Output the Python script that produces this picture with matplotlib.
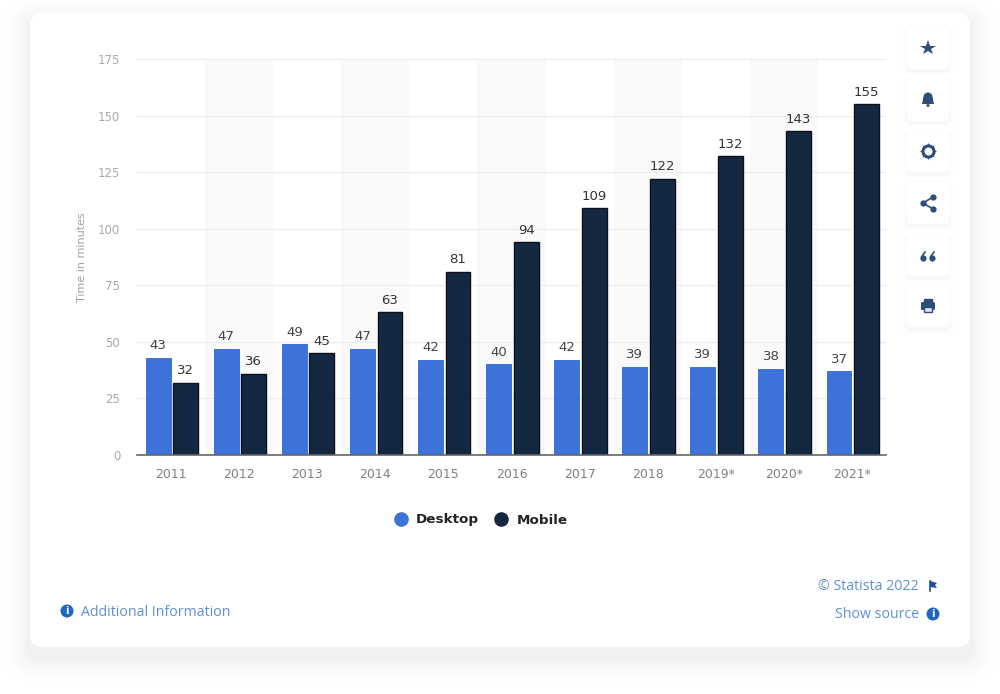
import numpy as np
import matplotlib
matplotlib.use('Agg')
import matplotlib.pyplot as plt
from matplotlib.lines import Line2D
from matplotlib.patches import FancyBboxPatch, Circle, Rectangle, Polygon

years = ['2011', '2012', '2013', '2014', '2015', '2016', '2017', '2018', '2019*', '2020*', '2021*']
desktop = [43, 47, 49, 47, 42, 40, 42, 39, 39, 38, 37]
mobile = [32, 36, 45, 63, 81, 94, 109, 122, 132, 143, 155]
y_ticks = [0, 25, 50, 75, 100, 125, 150, 175]

BLUE = '#3d72d8'
NAVY = '#152842'
LINK = '#5f8fd6'
ICON = '#2f4d78'

fig = plt.figure(figsize=(10, 6.94), dpi=100, facecolor='white')

# page layer in pixel coordinates: card, shadow, buttons, footer
page = fig.add_axes([0, 0, 1, 1], zorder=0)
page.set_xlim(0, 1000)
page.set_ylim(694, 0)
page.axis('off')


def rounded(ax, x, y, w, h, r, **kw):
    p = FancyBboxPatch((x + r, y + r), w - 2 * r, h - 2 * r,
                       boxstyle='round,pad=%f,rounding_size=%f' % (r, r), **kw)
    ax.add_patch(p)


def grey(level):
    # level 0 is white, 1 is the darkest shadow tone
    v = 1 - 0.06 * level
    return (v, v, v)


# soft shadow, solid tones from outside to inside
for grow in range(30, 0, -1):
    rounded(page, 30 - grow, 13 - grow + 10, 940 + 2 * grow, 634 + 2 * grow, 12 + grow,
            fc=grey((1 - grow / 30) ** 1.6), ec='none', zorder=1)
rounded(page, 30, 13, 940, 634, 12, fc='white', ec='none', zorder=2)

# the buttons on the right
button_tops = [27, 79, 130, 182, 234, 285]
for top in button_tops:
    for grow in range(6, 0, -1):
        rounded(page, 907 - grow, top - grow + 2, 42 + 2 * grow, 42 + 2 * grow, 5 + grow,
                fc=grey(0.7 * (1 - grow / 6) ** 2), ec='none', zorder=3)
    rounded(page, 907, top, 42, 42, 5, fc='white', ec='none', zorder=4)

cx = 928
# star
page.plot([cx], [48], marker='*', ms=11.5, color=ICON, mew=0, zorder=5)
# bell
page.add_patch(Circle((cx, 97), 4.5, fc=ICON, ec='none', zorder=5))
page.add_patch(Polygon([(cx - 4.5, 97), (cx + 4.5, 97), (cx + 6, 104), (cx - 6, 104)], fc=ICON, ec='none', zorder=5))
page.add_patch(Circle((cx, 105.5), 1.5, fc=ICON, ec='none', zorder=5))
# gear
page.plot([cx], [151], marker=(8, 1, 0), ms=12.5, color=ICON, mew=0, zorder=5)
page.plot([cx], [151], marker='o', ms=8, mfc='white', mec=ICON, mew=2.2, zorder=5.5)
# share
page.plot([cx + 5, cx - 5, cx + 5], [197, 203, 209], color=ICON, lw=1.2, zorder=5)
page.plot([cx + 5, cx - 5, cx + 5], [197, 203, 209], 'o', ms=4.5, color=ICON, mew=0, zorder=5)
# quote
for qx in [cx - 5, cx + 4]:
    page.plot([qx], [258], 'o', ms=4.5, color=ICON, mew=0, zorder=5)
    page.plot([qx - 1.5, qx + 2], [257, 252], color=ICON, lw=1.2, zorder=5)
# printer
rounded(page, cx - 7, 302, 14, 8, 1.5, fc=ICON, ec='none', zorder=5)
page.add_patch(Rectangle((cx - 4, 299), 8, 4, fc=ICON, ec=ICON, lw=1, zorder=5))
page.add_patch(Rectangle((cx - 4, 307), 8, 5, fc='#dfe5ee', ec=ICON, lw=1, zorder=6))

# footer
page.text(81, 612, 'Additional Information', color=LINK, fontsize=10.2, family='Open Sans',
          ha='left', va='center', zorder=5)
page.text(919, 586, '© Statista 2022', color=LINK, fontsize=10.2, family='Open Sans',
          ha='right', va='center', zorder=5)
page.text(919, 614, 'Show source', color=LINK, fontsize=10.2, family='Open Sans',
          ha='right', va='center', zorder=5)
for ix, iy in [(67, 611), (933, 614)]:
    page.add_patch(Circle((ix, iy), 6.5, fc='#1f66c1', ec='none', zorder=5))
    page.text(ix, iy, 'i', color='white', fontsize=7, weight='bold', ha='center', va='center', zorder=6)
page.plot([930, 930], [581, 591], color='#1f4f95', lw=1.2, zorder=5)
page.add_patch(Polygon([(930, 581), (937, 583), (935, 585), (937, 588), (930, 587)], fc='#1f4f95', ec='none', zorder=5))

# the chart itself
ax = fig.add_axes([137 / 1000, 1 - 455 / 694, 749 / 1000, 396 / 694], zorder=5)
ax.patch.set_alpha(0)
x = np.arange(len(years))
width = 0.365

for i in x[1::2]:
    ax.axvspan(i - 0.5, i + 0.5, color='#f9f9f9', lw=0, zorder=0)

b1 = ax.bar(x - 0.19, desktop, width, color=BLUE, edgecolor='#2f68d6', lw=0.6, zorder=3)
b2 = ax.bar(x + 0.215, mobile, width, color=NAVY, edgecolor='#0b0f1e', lw=1.0, zorder=3)
ax.bar_label(b1, padding=4, fontsize=9.5, color='#444444')
ax.bar_label(b2, padding=4, fontsize=9.5, color='#333333')

ax.set_xlim(-0.5, len(years) - 0.5)
ax.set_ylim(0, 175)
ax.set_xticks(x)
ax.set_xticklabels(years, fontsize=9, color='#808080')
ax.set_yticks(y_ticks)
ax.tick_params(axis='y', labelsize=8.5, labelcolor='#a8a8a8', length=0, pad=12)
ax.tick_params(axis='x', length=0, pad=9)
ax.grid(axis='y', color='#ececec', lw=0.8, zorder=1)
ax.set_axisbelow(True)
for s in ['top', 'right', 'left']:
    ax.spines[s].set_visible(False)
ax.spines['bottom'].set_color('#666666')
ax.spines['bottom'].set_linewidth(1.2)
ax.spines['bottom'].set_zorder(4)
ax.set_ylabel('Time in minutes', fontsize=8, color='#a0a0a0')
ax.yaxis.set_label_coords((87 - 137) / 749, 0.5)

handles = [Line2D([], [], ls='', marker='o', ms=10.5, color=BLUE, mew=0, label='Desktop'),
           Line2D([], [], ls='', marker='o', ms=10.5, color=NAVY, mew=0, label='Mobile')]
fig.legend(handles=handles, loc='center', bbox_to_anchor=(481 / 1000, 1 - 520 / 694), ncol=2,
           frameon=False, labelcolor='#222222', handlelength=1.0, handletextpad=0.6, columnspacing=1.15,
           prop={'size': 9.7, 'weight': 'semibold'})

fig.savefig('out.png', dpi=100, facecolor='white')
